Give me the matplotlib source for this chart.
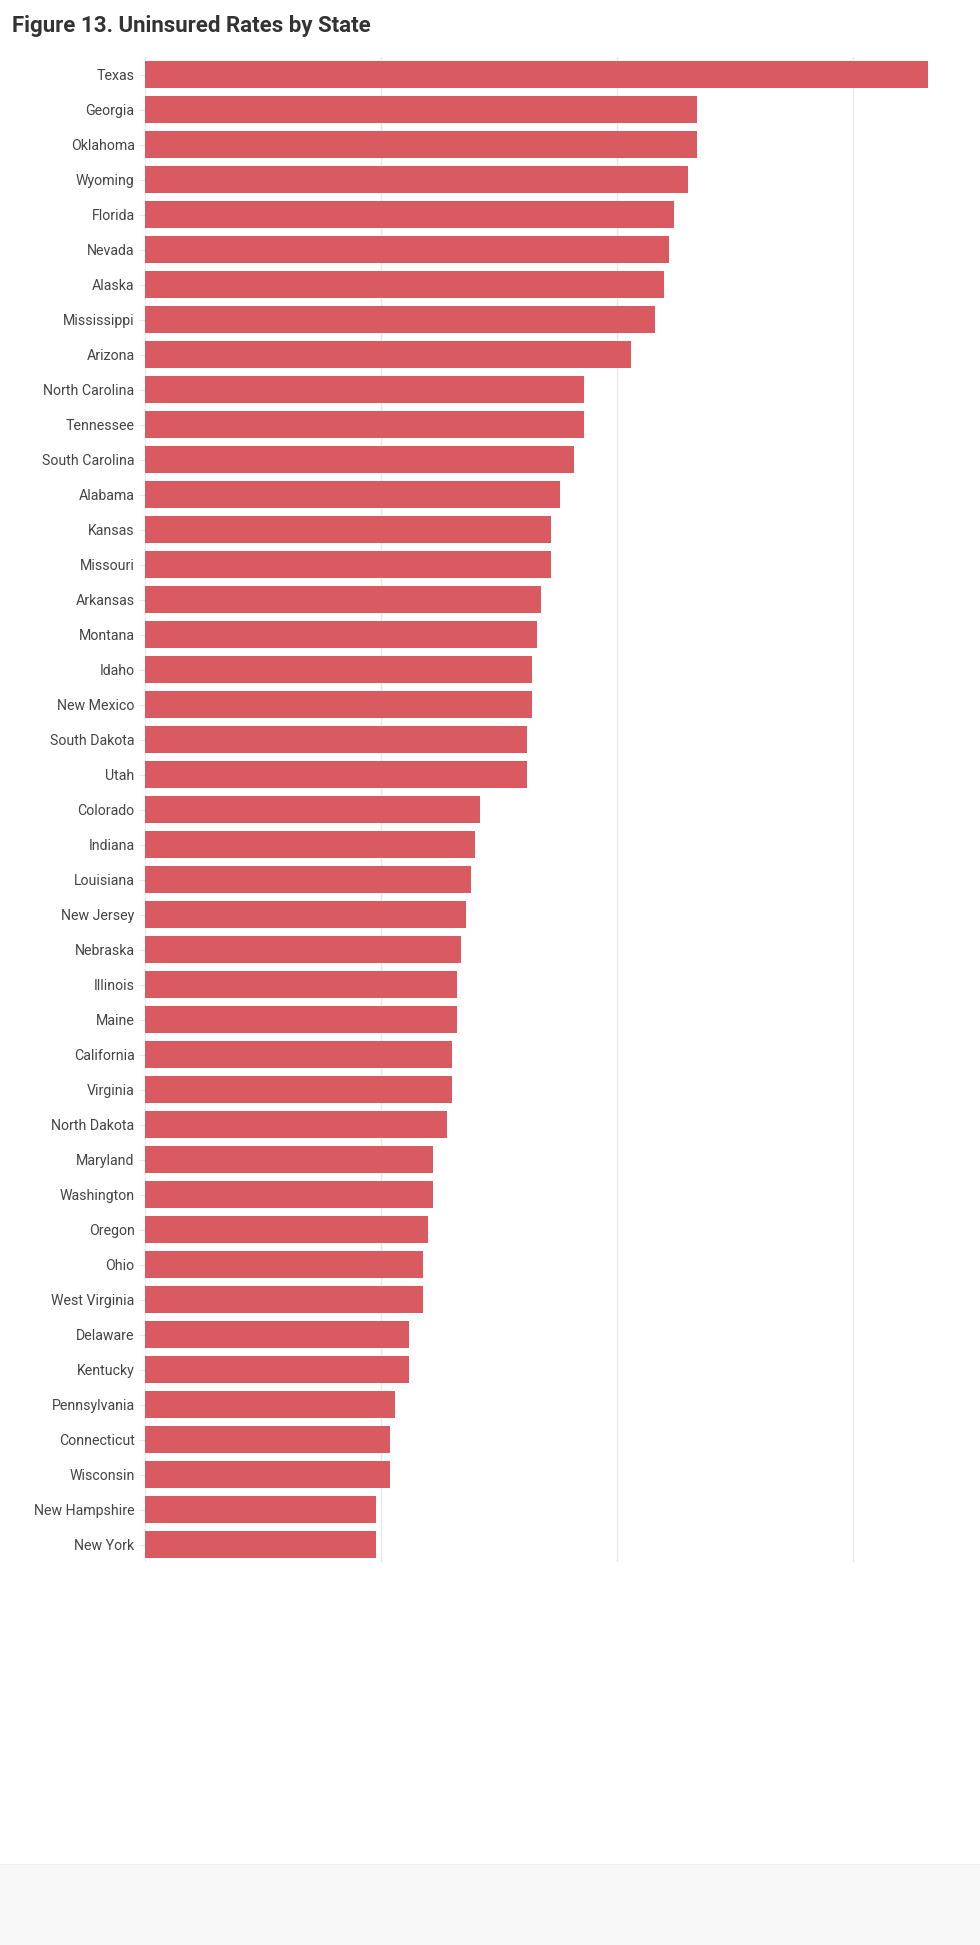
import matplotlib.pyplot as plt
from matplotlib.patches import Rectangle

# state names, top to bottom
states = ["Texas", "Georgia", "Oklahoma", "Wyoming", "Florida", "Nevada", "Alaska",
          "Mississippi", "Arizona", "North Carolina", "Tennessee", "South Carolina",
          "Alabama", "Kansas", "Missouri", "Arkansas", "Montana", "Idaho", "New Mexico",
          "South Dakota", "Utah", "Colorado", "Indiana", "Louisiana", "New Jersey",
          "Nebraska", "Illinois", "Maine", "California", "Virginia", "North Dakota",
          "Maryland", "Washington", "Oregon", "Ohio", "West Virginia", "Delaware",
          "Kentucky", "Pennsylvania", "Connecticut", "Wisconsin", "New Hampshire",
          "New York"]

# uninsured rate (%)
rates = [16.6, 11.7, 11.7, 11.5, 11.2, 11.1, 11.0,
         10.8, 10.3, 9.3, 9.3, 9.1,
         8.8, 8.6, 8.6, 8.4, 8.3, 8.2, 8.2,
         8.1, 8.1, 7.1, 7.0, 6.9, 6.8,
         6.7, 6.6, 6.6, 6.5, 6.5, 6.4,
         6.1, 6.1, 6.0, 5.9, 5.9, 5.6,
         5.6, 5.3, 5.2, 5.2, 4.9,
         4.9]

W, H = 980, 1945
plt.rcParams['font.family'] = ['Roboto', 'DejaVu Sans']

fig = plt.figure(figsize=(W / 100, H / 100), dpi=100)
fig.patch.set_facecolor('white')

# grey footer band
fig.patches.append(Rectangle((0, 0), 1, 80 / H, transform=fig.transFigure,
                             facecolor='#f8f8f8', edgecolor='none', zorder=0))
fig.patches.append(Rectangle((0, 80 / H), 1, 1.5 / H, transform=fig.transFigure,
                             facecolor='#f1f1f1', edgecolor='none', zorder=0))

ax = fig.add_axes([145 / W, (H - 1562) / H, 800 / W, 1505 / H])

y = list(range(len(states)))
ax.barh(y, rates, height=0.77, color='#d95a60', zorder=2)

ax.set_ylim(len(states) - 0.5, -0.5)
ax.set_xlim(0, 16.95)
ax.set_yticks(y)
ax.set_yticklabels(states, fontsize=10.2, color='#454545')
ax.set_xticks([0, 5, 10, 15])
ax.tick_params(axis='x', length=0, labelbottom=False)
ax.tick_params(axis='y', length=4, color='#e6e6e6', pad=3.5)
ax.grid(axis='x', color='#e9e9e9', linewidth=1, zorder=0)
ax.set_axisbelow(True)
for s in ax.spines.values():
    s.set_visible(False)

fig.text(12 / W, (H - 32) / H, "Figure 13. Uninsured Rates by State",
         fontsize=16, fontweight='bold', color='#333333', va='baseline', ha='left')

fig.savefig('out.png', dpi=100)
